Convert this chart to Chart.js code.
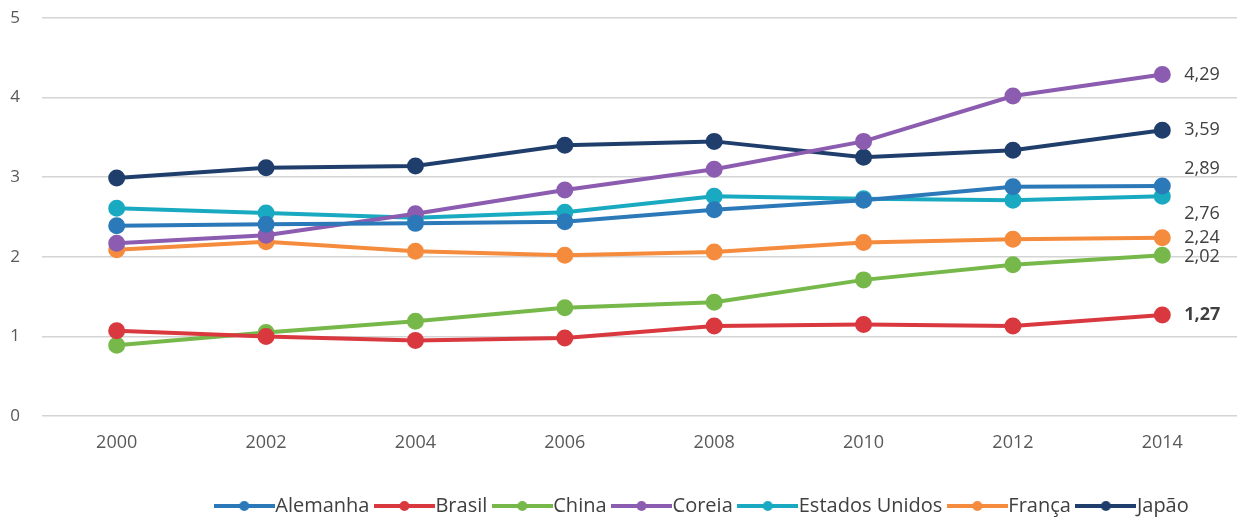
<!DOCTYPE html>
<html>
<head>
<meta charset="utf-8">
<script src="https://cdn.jsdelivr.net/npm/chart.js@4/dist/chart.umd.min.js"></script>
<style>
html,body{margin:0;padding:0;background:#fff;overflow:hidden;}
#wrap{width:1237px;height:519px;position:relative;}
</style>
</head>
<body>
<div id="wrap"><canvas id="c"></canvas></div>
<script>
const years = ['2000','2002','2004','2006','2008','2010','2012','2014'];
const seriesNames = ['Alemanha','Brasil','China','Coreia','Estados Unidos','França','Japão'];
const alemanha = [2.39, 2.41, 2.42, 2.44, 2.59, 2.71, 2.88, 2.89];
const brasil   = [1.07, 1.00, 0.95, 0.98, 1.13, 1.15, 1.13, 1.27];
const china    = [0.89, 1.05, 1.19, 1.36, 1.43, 1.71, 1.90, 2.02];
const coreia   = [2.17, 2.27, 2.54, 2.84, 3.10, 3.45, 4.02, 4.29];
const eua      = [2.61, 2.55, 2.49, 2.56, 2.76, 2.73, 2.71, 2.76];
const franca   = [2.09, 2.19, 2.07, 2.02, 2.06, 2.18, 2.22, 2.24];
const japao    = [2.99, 3.12, 3.14, 3.40, 3.45, 3.25, 3.34, 3.59];
const yTicks = [0, 1, 2, 3, 4, 5];

const seriesData = [alemanha, brasil, china, coreia, eua, franca, japao];
const colors = ['#2b79b8', '#d9383f', '#76b84a', '#8b5cb0', '#19aac2', '#f58b3d', '#1f3e6c'];
// end-label vertical nudges (px) and bold flags
const endLabelDy = [-17, 0, 2, 0, 18, 0, 0];
const endLabelBold = [false, true, false, false, false, false, false];

const LEGEND_FONT = 20;
const LEGEND_BOX = 42;
function legendIcon(color){
  const cv = document.createElement('canvas');
  cv.width = LEGEND_BOX + LEGEND_FONT - 1; cv.height = 14;
  const g = cv.getContext('2d');
  g.strokeStyle = color; g.lineWidth = 4;
  g.beginPath(); g.moveTo(0,7); g.lineTo(cv.width,7); g.stroke();
  g.fillStyle = color;
  g.beginPath(); g.arc(cv.width/2,7,5,0,Math.PI*2); g.fill();
  return cv;
}
const icons = colors.map(legendIcon);

const endLabels = {
  id: 'endLabels',
  afterDatasetsDraw(chart){
    const ctx = chart.ctx;
    ctx.save();
    ctx.fillStyle = '#404040';
    ctx.textBaseline = 'middle';
    ctx.textAlign = 'left';
    chart.data.datasets.forEach((ds, i) => {
      const meta = chart.getDatasetMeta(i);
      const last = meta.data[meta.data.length - 1];
      const v = ds.data[ds.data.length - 1];
      ctx.font = (endLabelBold[i] ? 'bold ' : '') + '18px "Open Sans", sans-serif';
      ctx.fillText(v.toFixed(2).replace('.', ','), last.x + 22, last.y + endLabelDy[i]);
    });
    ctx.restore();
  }
};

const legendShift = {
  id: 'legendShift',
  afterLayout(chart){
    const lg = chart.legend;
    if (lg) {
      const dx = 706 - (lg.left + lg.right) / 2;
      lg.left += dx; lg.right += dx;
      lg.top += 9; lg.bottom += 9;
    }
  }
};

new Chart(document.getElementById('c'), {
  type: 'line',
  data: {
    labels: years,
    datasets: seriesNames.map((n, i) => ({
      label: n,
      data: seriesData[i],
      borderColor: colors[i],
      backgroundColor: colors[i],
      pointBackgroundColor: colors[i],
      pointBorderColor: colors[i],
      borderWidth: 4,
      pointRadius: 6.5,
      pointHoverRadius: 6.5,
      tension: 0,
      fill: false,
      clip: false
    }))
  },
  options: {
    responsive: true,
    maintainAspectRatio: false,
    animation: false,
    devicePixelRatio: 1,
    layout: { autoPadding: false, padding: { top: 18, right: 0, left: 0, bottom: 2 } },
    plugins: {
      tooltip: { enabled: false },
      legend: {
        position: 'bottom',
        align: 'center',
        labels: {
          usePointStyle: true,
          pointStyleWidth: LEGEND_BOX,
          padding: 14,
          color: '#404040',
          font: { family: '"Open Sans", sans-serif', size: LEGEND_FONT },
          generateLabels(chart){
            return chart.data.datasets.map((ds, i) => ({
              text: ds.label,
              fillStyle: colors[i],
              strokeStyle: colors[i],
              lineWidth: 0,
              pointStyle: icons[i],
              datasetIndex: i,
              hidden: false,
              fontColor: '#404040'
            }));
          }
        }
      }
    },
    scales: {
      x: {
        type: 'category',
        offset: true,
        grid: { display: false, drawTicks: false },
        border: { display: false },
        ticks: { color: '#595959', font: { family: '"Open Sans", sans-serif', size: 18 }, padding: 16, maxRotation: 0 },
        afterFit(s){ s.paddingLeft = 0; s.paddingRight = 0; }
      },
      y: {
        min: 0, max: 5,
        afterBuildTicks(s){ s.ticks = yTicks.map(v => ({ value: v })); },
        grid: { color: '#d4d4d4', lineWidth: 1.5, drawTicks: false },
        border: { display: false },
        ticks: { color: '#595959', font: { family: '"Open Sans", sans-serif', size: 17 }, padding: 22 },
        afterFit(s){ s.width = 42; s.paddingTop = 0; s.paddingBottom = 0; }
      }
    }
  },
  plugins: [endLabels, legendShift, {
    id: 'xHeight',
    beforeLayout(chart){
      chart.options.scales.x.afterFit = (s) => { s.paddingLeft = 0; s.paddingRight = 0; s.height = 519 - 2 - 416 - chart.legend.height; };
    }
  }]
});
</script>
</body>
</html>
